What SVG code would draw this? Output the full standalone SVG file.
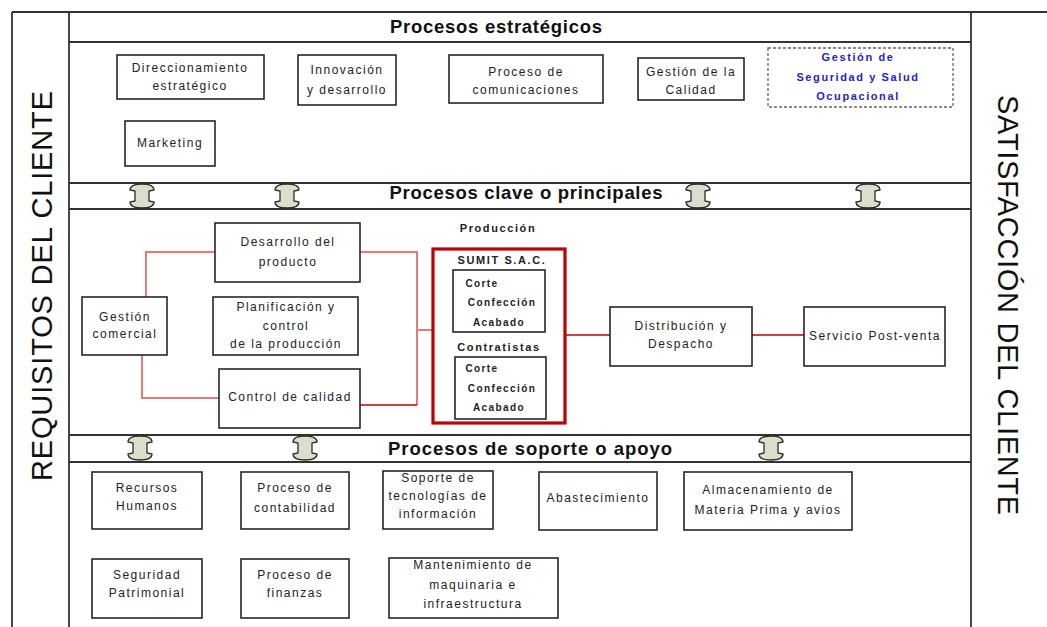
<svg xmlns="http://www.w3.org/2000/svg" width="1047" height="627" viewBox="0 0 1047 627">
<style>
.frame{fill:none;stroke:#333;stroke-width:1.8}
.node{fill:#fff;stroke:#262626;stroke-width:1.6}
.t{font-family:"Liberation Sans",Arial,sans-serif;font-size:12px;letter-spacing:1.5px;fill:#222;text-anchor:middle}
.tb{font-family:"Liberation Sans",Arial,sans-serif;font-size:11px;font-weight:bold;letter-spacing:1.6px;fill:#222;text-anchor:middle}
.ts{font-family:"Liberation Sans",Arial,sans-serif;font-size:10px;font-weight:bold;letter-spacing:1.4px;fill:#222;text-anchor:middle}
.blue{fill:#2424c8}
.hdr{font-family:"Liberation Sans",Arial,sans-serif;font-size:18.5px;font-weight:bold;fill:#111;text-anchor:middle}
.side{font-family:"Liberation Sans",Arial,sans-serif;font-size:29px;fill:#111;text-anchor:middle}
.lr{fill:none;stroke:#e47a7a;stroke-width:2}
.dr{fill:none;stroke:#c00000;stroke-width:1.6}
.arr{fill:#dadfcb;stroke:#2b2b2b;stroke-width:1.3}
</style>
<defs>
<path id="ud" d="M0,1 Q12,1 12,7 L7,8 L7,18 L12,19 Q12,25 0,25 Q-12,25 -12,19 L-7,18 L-7,8 L-12,7 Q-12,1 0,1 Z"/>
</defs>
<rect width="1047" height="627" fill="#fff"/>
<g id="frame">
<path class="frame" d="M12,12 H1047 M12,12 V627 M69,12 V627 M971,12 V627 M69,42 H971 M69,183 H971 M69,209 H971 M69,435 H971 M69,462 H971"/>
<text class="side" transform="translate(52,286) rotate(-90)" textLength="390" lengthAdjust="spacing">REQUISITOS DEL CLIENTE</text>
<text class="side" transform="translate(998,305) rotate(90)" textLength="420" lengthAdjust="spacing">SATISFACCIÓN DEL CLIENTE</text>
<text class="hdr" x="496" y="33" textLength="212" lengthAdjust="spacing">Procesos estratégicos</text>
<text class="hdr" x="526" y="199" textLength="273" lengthAdjust="spacing">Procesos clave o principales</text>
<text class="hdr" x="530" y="455" textLength="284" lengthAdjust="spacing">Procesos de soporte o apoyo</text>
</g>
<g id="band-arrows">
<use href="#ud" class="arr" x="142" y="183"/>
<use href="#ud" class="arr" x="287" y="183"/>
<use href="#ud" class="arr" x="698" y="183"/>
<use href="#ud" class="arr" x="868" y="183"/>
<use href="#ud" class="arr" x="140" y="435"/>
<use href="#ud" class="arr" x="305" y="435"/>
<use href="#ud" class="arr" x="771" y="435"/>
</g>
<g id="connectors">
<path class="lr" d="M146,297 V252 H215"/>
<path class="lr" d="M142,355 V398 H219"/>
<path class="lr" d="M360,252 H417 V405"/>
<path class="lr" d="M417,330 H433"/>
<path class="dr" d="M360,405 H417"/>
<path class="dr" d="M565,335 H610"/>
<path class="dr" d="M752,335 H804"/>
</g>
<g id="direccionamiento"><rect class="node" x="117" y="55" width="147" height="44"/><text class="t" x="190" y="72">Direccionamiento</text><text class="t" x="190" y="90">estratégico</text></g>
<g id="innovacion"><rect class="node" x="298" y="55" width="98" height="50"/><text class="t" x="347" y="74">Innovación</text><text class="t" x="347" y="94">y desarrollo</text></g>
<g id="comunicaciones"><rect class="node" x="449" y="55" width="154" height="48"/><text class="t" x="526" y="76">Proceso de</text><text class="t" x="526" y="94">comunicaciones</text></g>
<g id="calidad"><rect class="node" x="638" y="58" width="106" height="42"/><text class="t" x="691" y="76">Gestión de la</text><text class="t" x="691" y="94">Calidad</text></g>
<g id="sso"><rect x="768" y="48" width="185" height="59" fill="#fff" stroke="#666" stroke-width="1.3" stroke-dasharray="3,2"/><text class="tb blue" x="858" y="61">Gestión de</text><text class="tb blue" x="858" y="81">Seguridad y Salud</text><text class="tb blue" x="858" y="100">Ocupacional</text></g>
<g id="marketing"><rect class="node" x="125" y="121" width="90" height="45"/><text class="t" x="170" y="147">Marketing</text></g>
<g id="gestion-comercial"><rect class="node" x="82" y="297" width="85" height="58"/><text class="t" x="125" y="321">Gestión</text><text class="t" x="125" y="338">comercial</text></g>
<g id="desarrollo"><rect class="node" x="215" y="223" width="145" height="59"/><text class="t" x="288" y="246">Desarrollo del</text><text class="t" x="288" y="266">producto</text></g>
<g id="planificacion"><rect class="node" x="213" y="297" width="145" height="58"/><text class="t" x="286" y="311">Planificación y</text><text class="t" x="286" y="330">control</text><text class="t" x="286" y="348">de la producción</text></g>
<g id="control-calidad"><rect class="node" x="219" y="369" width="141" height="59"/><text class="t" x="290" y="401">Control de calidad</text></g>
<g id="produccion">
<text class="tb" x="498" y="232">Producción</text>
<rect x="433" y="249" width="132" height="174" fill="none" stroke="#c00000" stroke-width="3.2"/>
<text class="tb" x="502" y="264">SUMIT S.A.C.</text>
<rect class="node" x="453" y="270" width="92" height="62"/>
<text class="ts" x="482" y="287">Corte</text><text class="ts" x="502" y="306">Confección</text><text class="ts" x="499" y="326">Acabado</text>
<text class="tb" x="499" y="351">Contratistas</text>
<rect class="node" x="455" y="357" width="91" height="62"/>
<text class="ts" x="482" y="372">Corte</text><text class="ts" x="502" y="392">Confección</text><text class="ts" x="499" y="411">Acabado</text>
</g>
<g id="distribucion"><rect class="node" x="610" y="307" width="142" height="59"/><text class="t" x="681" y="330">Distribución y</text><text class="t" x="681" y="348">Despacho</text></g>
<g id="postventa"><rect class="node" x="804" y="307" width="141" height="59"/><text class="t" x="875" y="340">Servicio Post-venta</text></g>
<g id="rrhh"><rect class="node" x="92" y="472" width="110" height="57"/><text class="t" x="147" y="492">Recursos</text><text class="t" x="147" y="510">Humanos</text></g>
<g id="contabilidad"><rect class="node" x="241" y="472" width="108" height="57"/><text class="t" x="295" y="492">Proceso de</text><text class="t" x="295" y="512">contabilidad</text></g>
<g id="tecnologias"><rect class="node" x="383" y="471" width="110" height="58"/><text class="t" x="438" y="482">Soporte de</text><text class="t" x="438" y="500">tecnologías de</text><text class="t" x="438" y="518">información</text></g>
<g id="abastecimiento"><rect class="node" x="539" y="472" width="118" height="58"/><text class="t" x="598" y="502">Abastecimiento</text></g>
<g id="almacenamiento"><rect class="node" x="684" y="472" width="168" height="58"/><text class="t" x="768" y="494">Almacenamiento de</text><text class="t" x="768" y="514">Materia Prima y avios</text></g>
<g id="seguridad-patrimonial"><rect class="node" x="92" y="559" width="110" height="59"/><text class="t" x="147" y="579">Seguridad</text><text class="t" x="147" y="597">Patrimonial</text></g>
<g id="finanzas"><rect class="node" x="241" y="559" width="108" height="59"/><text class="t" x="295" y="579">Proceso de</text><text class="t" x="295" y="597">finanzas</text></g>
<g id="mantenimiento"><rect class="node" x="389" y="558" width="169" height="60"/><text class="t" x="473" y="569">Mantenimiento de</text><text class="t" x="473" y="589">maquinaria e</text><text class="t" x="473" y="608">infraestructura</text></g>
</svg>
